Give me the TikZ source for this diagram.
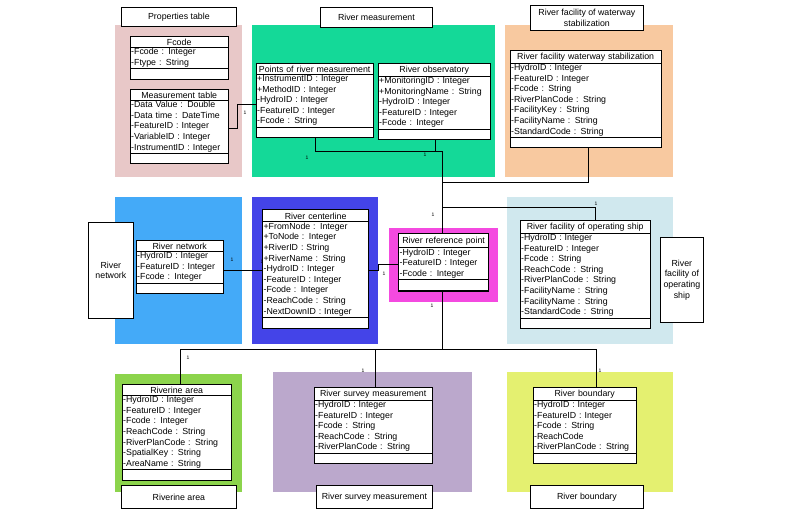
\documentclass[tikz,border=0pt]{standalone}
\usepackage{fontspec}
\setmainfont{Liberation Sans}
\usetikzlibrary{positioning, shapes.multipart}
\definecolor{propbg}{HTML}{E8C8C8}
\definecolor{measbg}{HTML}{14D998}
\definecolor{stabbg}{HTML}{F8C9A0}
\definecolor{netbg}{HTML}{44AAF8}
\definecolor{linebg}{HTML}{4444E8}
\definecolor{refbg}{HTML}{F44AE0}
\definecolor{shipbg}{HTML}{D0E8EE}
\definecolor{areabg}{HTML}{8CD44C}
\definecolor{survbg}{HTML}{BBA8CC}
\definecolor{bndbg}{HTML}{E4F070}
\newcommand{\hd}[1]{\makebox[\linewidth][c]{\rule{0pt}{8.5pt}#1}}
\begin{document}
\begin{tikzpicture}[x=1pt, y=-1pt,
            font=\fontsize{8.8}{10.6}\selectfont,
            group/.style={
                fill=#1, 
                draw=none
            },
            title/.style={
                rectangle, 
                draw, 
                thick, 
                fill=white, 
                anchor=north west, 
                align=center, 
                inner sep=1pt
            },
            cls/.style={
                rectangle split, 
                rectangle split parts=3, 
                draw, 
                fill=white, 
                anchor=north west, 
                inner xsep=1pt, 
                inner ysep=1pt, 
                text width=#1, 
                align=left
            },
            link/.style={
                draw, 
                thin
            },
            mult/.style={
                font=\fontsize{5}{6}\selectfont, 
                inner sep=0pt
            }
        ]
        \useasboundingbox (0,0) rectangle (800,516);

        % Background groups
        \fill[group=propbg] (115,25) rectangle (242,177);
        \fill[group=measbg] (252,25) rectangle (495,177);
        \fill[group=stabbg] (505,25) rectangle (673,177);
        \fill[group=netbg] (115,197) rectangle (242,344);
        \fill[group=linebg] (252,197) rectangle (378,344);
        \fill[group=refbg] (389,228) rectangle (498,302);
        \fill[group=shipbg] (507,197) rectangle (673,344);
        \fill[group=areabg] (115,374) rectangle (242,492);
        \fill[group=survbg] (273,372) rectangle (472,492);
        \fill[group=bndbg] (507,372) rectangle (673,492);

        % Group titles
        \node (tprop) [title, minimum width=115pt, minimum height=19pt] at (121,7) {Properties table};
        \node (tmeas) [title, minimum width=112pt, minimum height=20pt] at (320,7) {River measurement};
        \node (tstab) [title, minimum width=113pt, minimum height=25pt] at (530,5) {River facility of waterway\\stabilization};
        \node (tnet) [title, minimum width=45pt, minimum height=96pt] at (88,222) {River\\network};
        \node (tship) [title, minimum width=43pt, minimum height=85pt] at (660,237) {River\\facility of\\operating\\ship};
        \node (tarea) [title, minimum width=115pt, minimum height=23pt] at (121,485) {Riverine area};
        \node (tsurv) [title, minimum width=116pt, minimum height=23pt] at (316,485) {River survey measurement};
        \node (tbnd) [title, minimum width=113pt, minimum height=23pt] at (530,485) {River boundary};

        % Classes
        \node (fcode) [cls=96pt] at (130,36) {\hd{Fcode}
            \nodepart{second}-Fcode : Integer\\-Ftype : String
            \nodepart{third}\rule{0pt}{8pt}};
        \node (mtable) [cls=96pt] at (130,89) {\hd{Measurement table}
            \nodepart{second}-Data Value : Double\\-Data time : DateTime\\-FeatureID : Integer\\-VariableID : Integer\\-InstrumentID : Integer
            \nodepart{third}\rule{0pt}{8pt}};
        \node (points) [cls=115pt] at (256,63) {\hd{Points of river measurement}
            \nodepart{second}+InstrumentID : Integer\\+MethodID : Integer\\-HydroID : Integer\\-FeatureID : Integer\\-Fcode : String
            \nodepart{third}\rule{0pt}{8pt}};
        \node (observ) [cls=110pt] at (378,63) {\hd{River observatory}
            \nodepart{second}+MonitoringID : Integer\\+MonitoringName : String\\-HydroID : Integer\\-FeatureID : Integer\\-Fcode : Integer
            \nodepart{third}\rule{0pt}{8pt}};
        \node (stab) [cls=149pt] at (510,50) {\hd{River facility waterway stabilization}
            \nodepart{second}-HydroID : Integer\\-FeatureID : Integer\\-Fcode : String\\-RiverPlanCode : String\\-FacilityKey : String\\-FacilityName : String\\-StandardCode : String
            \nodepart{third}\rule{0pt}{8pt}};
        \node (network) [cls=85pt] at (136,240) {\hd{River network}
            \nodepart{second}-HydroID : Integer\\-FeatureID : Integer\\-Fcode : Integer
            \nodepart{third}\rule{0pt}{8pt}};
        \node (center) [cls=104pt, very thick] at (262,209) {\hd{River centerline}
            \nodepart{second}+FromNode : Integer\\+ToNode : Integer\\+RiverID : String\\+RiverName : String\\-HydroID : Integer\\-FeatureID : Integer\\-Fcode : Integer\\-ReachCode : String\\-NextDownID : Integer
            \nodepart{third}\rule{0pt}{8pt}};
        \node (refpt) [cls=88pt, very thick] at (398,233) {\hd{River reference point}
            \nodepart{second}-HydroID : Integer\\-FeatureID : Integer\\-Fcode : Integer
            \nodepart{third}\rule{0pt}{8pt}};
        \node (ship) [cls=128pt] at (520,220) {\hd{River facility of operating ship}
            \nodepart{second}-HydroID : Integer\\-FeatureID : Integer\\-Fcode : String\\-ReachCode : String\\-RiverPlanCode : String\\-FacilityName : String\\-FacilityName : String\\-StandardCode : String
            \nodepart{third}\rule{0pt}{8pt}};
        \node (area) [cls=107pt] at (122,384) {\hd{Riverine area}
            \nodepart{second}-HydroID : Integer\\-FeatureID : Integer\\-Fcode : Integer\\-ReachCode : String\\-RiverPlanCode : String\\-SpatialKey : String\\-AreaName : String
            \nodepart{third}\rule{0pt}{8pt}};
        \node (survey) [cls=116pt] at (314,387) {\hd{River survey measurement}
            \nodepart{second}-HydroID : Integer\\-FeatureID : Integer\\-Fcode : String\\-ReachCode : String\\-RiverPlanCode : String
            \nodepart{third}\rule{0pt}{8pt}};
        \node (boundary) [cls=101pt] at (533,387) {\hd{River boundary}
            \nodepart{second}-HydroID : Integer\\-FeatureID : Integer\\-Fcode : String\\-ReachCode\\-RiverPlanCode : String
            \nodepart{third}\rule{0pt}{8pt}};

        % Junction points
        \coordinate (jtop) at (442,182);
        \coordinate (jbot) at (442,349);

        % Connectors
        \draw[link] (mtable.east |- 0,128) -- (237,128) -- (237,104) -- (points.west |- 0,104);
        \draw[link] (points.south -| 315,0) -- (315,151) -- (442,151);
        \draw[link] (observ.south -| 435,0) -- (435,151) -- (442,151) -- (jtop);
        \draw[link] (jtop) -- (588,182) -- (stab.south -| 588,0);
        \draw[link] (jtop) -- (refpt.north -| jtop);
        \draw[link] (442,207) -- (595,207) -- (ship.north -| 595,0);
        \draw[link] (network.east |- 0,270) -- (center.west |- 0,270);
        \draw[link] (center.east |- 0,270) -- (378,270) -- (378,264) -- (refpt.west |- 0,264);
        \draw[link] (refpt.south -| jbot) -- (jbot);
        \draw[link] (180,349) -- (596,349);
        \draw[link] (180,349) -- (area.north -| 180,0);
        \draw[link] (375,349) -- (survey.north -| 375,0);
        \draw[link] (596,349) -- (boundary.north -| 596,0);

        % Multiplicities
        \foreach \x/\y in {245/113, 307/158, 425/155, 433/215, 596/204, 232/260, 262/262, 384/274, 432/306, 188/358, 363/371, 600/371}
            \node[mult] at (\x,\y) {1};

        \end{tikzpicture}
\end{document}
